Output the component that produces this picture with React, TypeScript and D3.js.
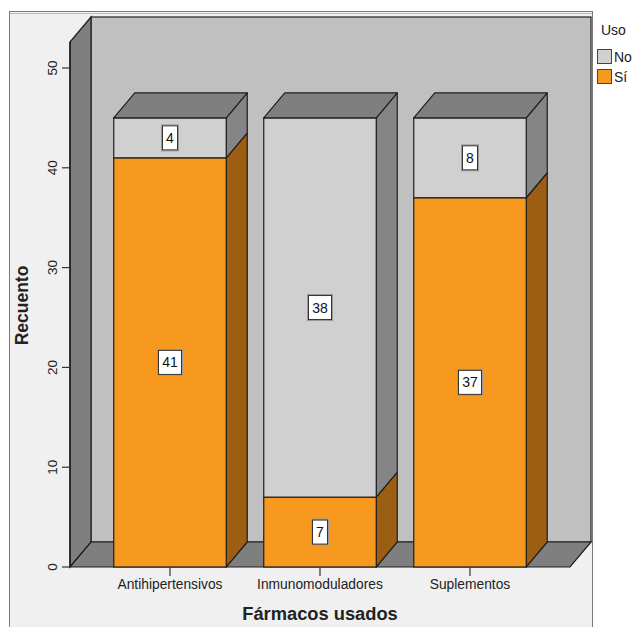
import React from "react";
import * as d3 from "d3";

const categories = ["Antihipertensivos", "Inmunomoduladores", "Suplementos"];
const siValues = [41, 7, 37];
const noValues = [4, 38, 8];
const yTicks = [0, 10, 20, 30, 40, 50];
const legendLabels = ["No", "Sí"];

const W = 637;
const H = 627;
const X0 = 70;
const X1 = 570;
const Y0 = 567;
const DX = 21;
const DY = 25;
const FONT = "'Liberation Sans', Arial, sans-serif";

const C = {
  si: "#f7991f",
  siSide: "#9b5e13",
  no: "#d0d0d0",
  noSide: "#858585",
  top: "#7f7f7f",
  back: "#c0c0c0",
  wall: "#7f7f7f",
  frame: "#f0f0f0",
  stroke: "#1e1e1e",
};

function LabelBox({ x, y, text }: { x: number; y: number; text: string }) {
  const w = text.length === 1 ? 15 : 23;
  const h = 24;
  return (
    <g>
      <rect x={x - w / 2 - 1} y={y - h / 2 - 1} width={w + 2} height={h + 2} fill="none" stroke="#9a9a9a" strokeWidth={1} />
      <rect x={x - w / 2} y={y - h / 2} width={w} height={h} fill="#ffffff" stroke="#333" strokeWidth={1} />
      <text x={x} y={y + 5} textAnchor="middle" fontSize={14} fontFamily={FONT} fill="#111">
        {text}
      </text>
    </g>
  );
}

export default function App() {
  const y = d3.scaleLinear().domain([0, 50]).range([Y0, 68]);
  const x = d3.scaleBand<string>().domain(categories).range([95, 545]).paddingInner(0);
  const barW = x.bandwidth() * 0.75;
  const wallTop = 42;

  const poly = (pts: [number, number][]) => pts.map((p) => p.join(",")).join(" ");

  return (
    <svg width={W} height={H} style={{ position: "absolute", left: 0, top: 0, background: "#fff" }}>
      {/* frame */}
      <rect x={9.5} y={11.5} width={583} height={630} fill={C.frame} stroke="#7a7a7a" strokeWidth={1} />
      <line x1={10} y1={13.5} x2={592} y2={13.5} stroke="#bdbdbd" />
      {/* back wall */}
      <rect x={X0 + DX} y={wallTop - DY} width={X1 - X0} height={Y0 - wallTop} fill={C.back} stroke={C.stroke} strokeWidth={1.2} />
      {/* left wall */}
      <polygon
        points={poly([[X0, wallTop], [X0 + DX, wallTop - DY], [X0 + DX, Y0 - DY], [X0, Y0]])}
        fill={C.wall}
        stroke={C.stroke}
        strokeWidth={1.2}
      />
      {/* floor */}
      <polygon
        points={poly([[X0, Y0], [X0 + DX, Y0 - DY], [X1 + DX, Y0 - DY], [X1, Y0]])}
        fill={C.wall}
        stroke={C.stroke}
        strokeWidth={1.2}
      />
      {/* y axis */}
      <line x1={X0} y1={wallTop} x2={X0} y2={Y0} stroke={C.stroke} strokeWidth={1.5} />
      {yTicks.map((t) => (
        <g key={t}>
          <line x1={62} x2={X0} y1={y(t)} y2={y(t)} stroke="#333" strokeWidth={1.2} />
          <text
            transform={`translate(57,${y(t)}) rotate(-90)`}
            textAnchor="middle"
            fontSize={13.5}
            fontFamily={FONT}
            fill="#222"
          >
            {t}
          </text>
        </g>
      ))}
      {/* bars */}
      {categories.map((c, i) => {
        const cx = (x(c) as number) + x.bandwidth() / 2;
        const bx = cx - barW / 2;
        const segs = [
          { v0: 0, v1: siValues[i], front: C.si, side: C.siSide },
          { v0: siValues[i], v1: siValues[i] + noValues[i], front: C.no, side: C.noSide },
        ];
        const topY = y(siValues[i] + noValues[i]);
        return (
          <g key={c}>
            {segs.map((s, j) => {
              const yt = y(s.v1);
              const yb = y(s.v0);
              return (
                <g key={j}>
                  <polygon
                    points={poly([[bx + barW, yt], [bx + barW + DX, yt - DY], [bx + barW + DX, yb - DY], [bx + barW, yb]])}
                    fill={s.side}
                    stroke={C.stroke}
                    strokeWidth={1.2}
                    strokeLinejoin="round"
                  />
                  <rect x={bx} y={yt} width={barW} height={yb - yt} fill={s.front} stroke={C.stroke} strokeWidth={1.2} />
                </g>
              );
            })}
            <polygon
              points={poly([[bx, topY], [bx + DX, topY - DY], [bx + barW + DX, topY - DY], [bx + barW, topY]])}
              fill={C.top}
              stroke={C.stroke}
              strokeWidth={1.2}
              strokeLinejoin="round"
            />
            <LabelBox x={cx} y={y(siValues[i] / 2)} text={String(siValues[i])} />
            <LabelBox x={cx} y={y(siValues[i] + noValues[i] / 2)} text={String(noValues[i])} />
            <line x1={cx} x2={cx} y1={Y0} y2={Y0 + 9} stroke="#333" strokeWidth={1.2} />
            <text x={cx} y={Y0 + 22} textAnchor="middle" fontSize={13.8} fontFamily={FONT} fill="#222">
              {c}
            </text>
          </g>
        );
      })}
      {/* axis titles */}
      <text x={320} y={620} textAnchor="middle" fontSize={18.3} fontWeight="bold" fontFamily={FONT} fill="#222">
        Fármacos usados
      </text>
      <text
        transform="translate(28,305.5) rotate(-90)"
        textAnchor="middle"
        fontSize={17.5}
        fontWeight="bold"
        fontFamily={FONT}
        fill="#222"
      >
        Recuento
      </text>
      {/* legend */}
      <text x={601} y={35} fontSize={14} fontFamily={FONT} fill="#222">
        Uso
      </text>
      {legendLabels.map((l, i) => (
        <g key={l}>
          <rect x={597.5} y={49.5 + i * 20} width={14} height={14} fill={i === 0 ? C.no : C.si} stroke="#444" />
          <text x={614} y={62 + i * 20} fontSize={14} fontFamily={FONT} fill="#222">
            {l}
          </text>
        </g>
      ))}
    </svg>
  );
}
